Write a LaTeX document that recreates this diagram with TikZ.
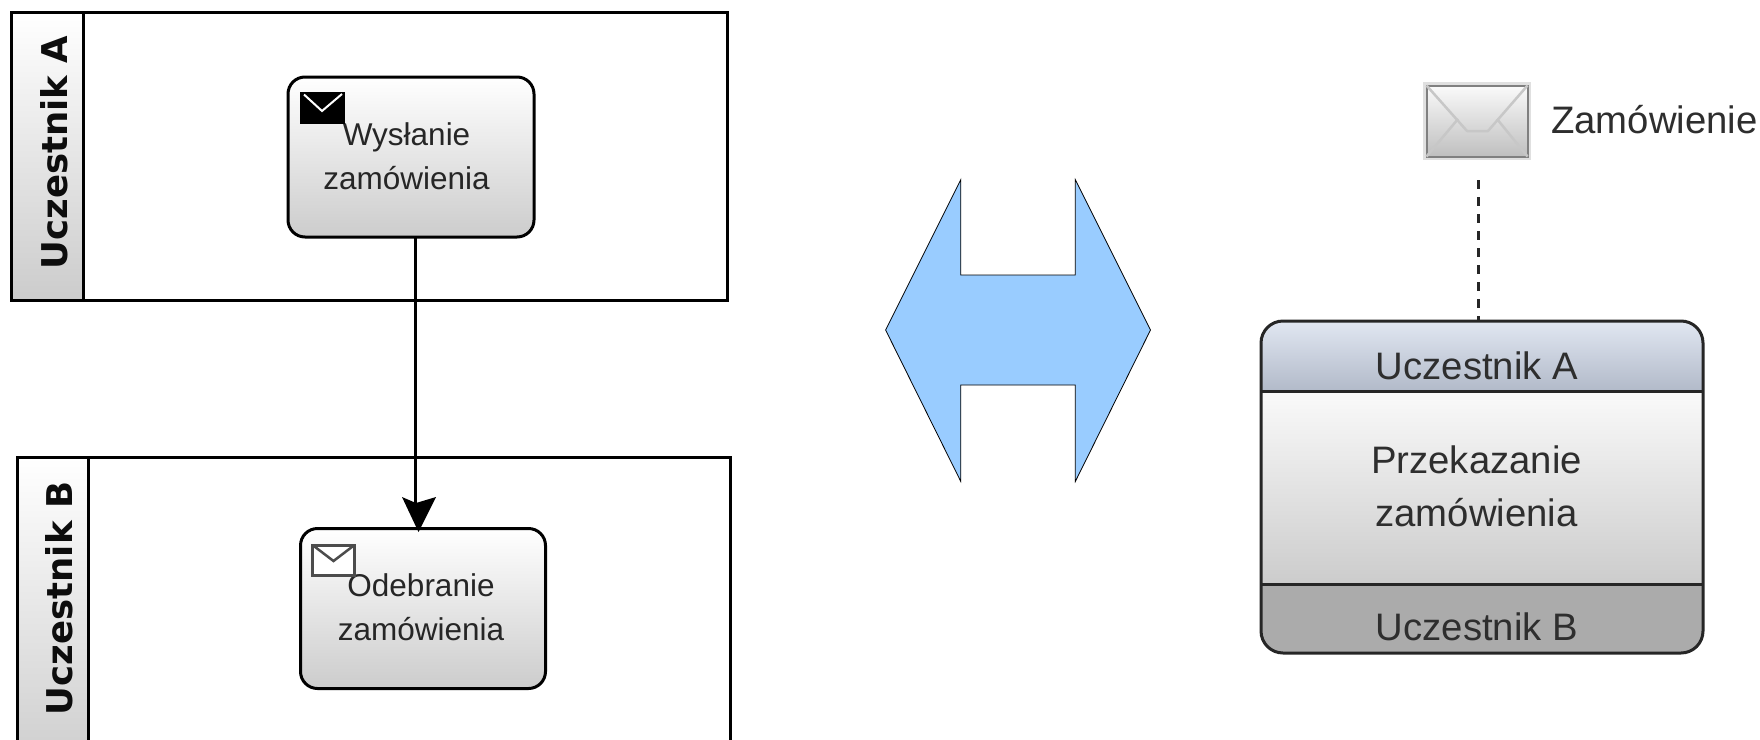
\documentclass[tikz,border=0pt]{standalone}
\usepackage{fontspec}
\setmainfont{Liberation Sans}
\newfontfamily\poolfont{DejaVu Sans}[BoldFont={DejaVu Sans Bold}]
\definecolor{bigarrow}{HTML}{99CCFF}
\definecolor{headtop}{HTML}{E0E6F1}
\definecolor{headbot}{HTML}{B2BAC9}
\tikzset{
  x=1pt,y=-1pt,
  boxnode/.style={inner sep=0pt,outer sep=0pt,anchor=center},
  pool/.style={boxnode,draw=black,line width=3pt,fill=white},
  poolstrip/.style={boxnode,draw=black,line width=3pt,top color=white,bottom color=black!20},
  poollabel/.style={inner sep=0pt,rotate=90,font=\poolfont\bfseries\fontsize{35.5}{40}\selectfont,text=black!95},
  task/.style={boxnode,draw=black,line width=3pt,rounded corners=17pt,top color=white,bottom color=black!20},
  tasktext/.style={inner sep=0pt,align=center,text=black!85,font=\fontsize{31.5}{44}\selectfont},
  chortext/.style={inner sep=0pt,align=center,text=black!82,font=\fontsize{38.3}{53}\selectfont},
}
\begin{document}
\begin{tikzpicture}
\clip (0,0) rectangle (1760,739);
\fill[white] (0,0) rectangle (1760,739);
% pool A
\node[pool,minimum width=715.5pt,minimum height=288pt] (poolA) at (369.3,156) {};
\node[poolstrip,minimum width=72pt,minimum height=288pt] (stripA) at (47.5,156) {};
\node[poollabel] (labelA) at (54,152.5) {Uczestnik A};
% pool B
\node[pool,minimum width=713pt,minimum height=320pt] (poolB) at (374,617) {};
\node[poolstrip,minimum width=71.5pt,minimum height=320pt] (stripB) at (53.2,617) {};
\node[poollabel] (labelB) at (59.5,598.5) {Uczestnik B};
% tasks
\node[task,minimum width=246pt,minimum height=160pt] (taskA) at (411,157) {};
\node[task,minimum width=245pt,minimum height=160pt] (taskB) at (423,608.5) {};
\node[tasktext] (textA) at (406.5,156.5) {Wysłanie\\zamówienia};
\node[tasktext] (textB) at (421,607.5) {Odebranie\\zamówienia};
% task icons
\node[boxnode,draw=black,fill=black,line width=1.5pt,minimum width=43pt,minimum height=31pt] (iconA) at (322.5,108) {};
\draw[white,line width=2pt] (iconA.north west) ++(3,2) -- (322,111) -- (342,94);
\node[boxnode,draw=black!70,fill=white,line width=3pt,minimum width=42pt,minimum height=30pt] (iconB) at (333.5,560) {};
\draw[black!70,line width=2.5pt] (iconB.north west) -- (333.5,561) -- (iconB.north east);
% sequence flow
\coordinate (headtip) at (418.5,532);
\draw[black,line width=3pt] ([xshift=4pt]taskA.south) -- (415,505);
\fill[black] (402,497) -- (416,503) -- (436,497) -- (headtip) -- cycle;
% big double arrow
\draw[black,line width=.8pt,fill=bigarrow,line join=miter]
  (885.6,330) -- (960.8,179.6) -- (960.8,275) -- (1075.3,275) -- (1075.3,179.6)
  -- (1150.5,330) -- (1075.3,481.5) -- (1075.3,385) -- (960.8,385) -- (960.8,481.5) -- cycle;
% choreography task
\path[top color=black!2,bottom color=black!20] (1262,390) rectangle (1702,584);
\path[top color=headtop,bottom color=headbot]
  (1262,391) {[rounded corners=22pt] -- (1262,322) -- (1702,322)} -- (1702,391) -- cycle;
\path[fill=black!33] (1262,584) {[rounded corners=22pt] -- (1262,653) -- (1702,653)} -- (1702,584) -- cycle;
\node[boxnode,draw=black!85,line width=3pt,rounded corners=22pt,minimum width=442pt,minimum height=332pt] (chor) at (1482,487) {};
\draw[black!85,line width=3pt] (chor.west |- 0,391) -- (chor.east |- 0,391);
\draw[black!85,line width=3pt] (chor.west |- 0,584) -- (chor.east |- 0,584);
\node[chortext] (chorA) at (1477,366) {Uczestnik A};
\node[chortext] (chorM) at (1476.5,486) {Przekazanie\\zamówienia};
\node[chortext] (chorB) at (1477,627) {Uczestnik B};
% message
\node[boxnode,draw=black!12,line width=5pt,minimum width=103pt,minimum height=73pt] (msgshadow) at (1477,121) {};
\node[boxnode,draw=black!50,line width=2pt,top color=black!2,bottom color=black!25,minimum width=101pt,minimum height=71pt] (msg) at (1477,121) {};
\draw[black!22,line width=2.5pt,line join=round] (msg.north west) -- (1467,131) -- (1488,131) -- (msg.north east);
\draw[black!22,line width=2.5pt] (msg.south west) -- (1458,119);
\draw[black!22,line width=2.5pt] (msg.south east) -- (1497,119);
\node[chortext,anchor=west] (msgtext) at (1551,120) {Zamówienie};
\coordinate (dashtop) at (1478,180);
\draw[black!85,line width=3pt,dash pattern=on 9pt off 8pt] (dashtop) -- (dashtop |- chor.north);
\end{tikzpicture}
\end{document}
